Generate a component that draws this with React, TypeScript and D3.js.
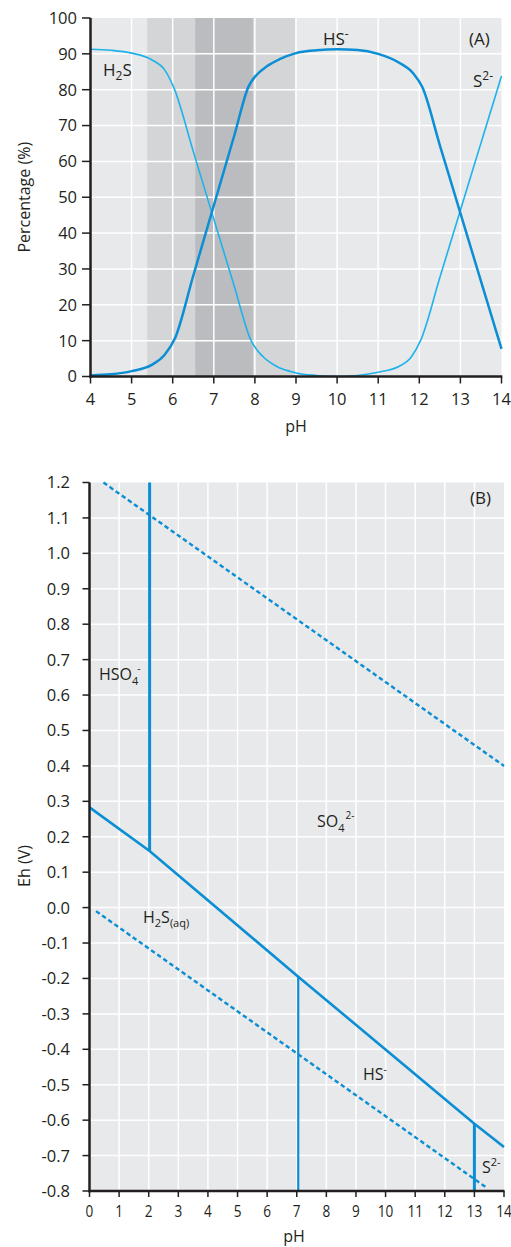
import React from 'react';
import * as d3 from 'd3';

// ---------- Chart A data ----------
const phTicksA = [4, 5, 6, 7, 8, 9, 10, 11, 12, 13, 14];
const pctTicks = [0, 10, 20, 30, 40, 50, 60, 70, 80, 90, 100];
const bandOuter = [5.38, 8.98];
const bandInner = [6.55, 7.95];
// H2S -> S2- fraction curve (light blue)
const h2sCurve: [number, number][] = [
  [4, 91.3], [4.5, 91.0], [5, 90.2], [5.5, 88.3], [5.8, 85.6], [6.03, 80.5],
  [6.5, 62.8], [7, 43.9], [7.5, 25.1], [7.9, 10.2], [8.2, 5.5], [8.5, 3.0],
  [9, 1.0], [9.5, 0.3], [10, 0.0], [10.5, 0.3], [11, 1.2], [11.5, 2.8],
  [11.8, 5.4], [12.03, 10.0], [12.5, 27.6], [13, 46.4], [13.5, 65.1], [14, 83.8],
];
// HS- fraction curve (dark blue)
const hsCurve: [number, number][] = [
  [4, 0.3], [4.5, 0.6], [5, 1.5], [5.5, 3.3], [5.8, 6.0], [6.05, 10.5],
  [6.5, 28.1], [7, 47.7], [7.5, 67.3], [7.85, 81.0], [8.0, 83.6], [8.3, 86.6],
  [8.6, 88.5], [9, 90.2], [9.5, 91.0], [10, 91.3], [10.5, 91.1], [11, 90.0],
  [11.5, 87.6], [11.85, 84.6], [12.07, 80.8], [12.5, 64.5], [13, 45.6],
  [13.5, 26.6], [14, 7.7],
];

// ---------- Chart B data ----------
const phTicksB = [0, 1, 2, 3, 4, 5, 6, 7, 8, 9, 10, 11, 12, 13, 14];
const ehTicks = [1.2, 1.1, 1.0, 0.9, 0.8, 0.7, 0.6, 0.5, 0.4, 0.3, 0.2, 0.1, 0.0,
  -0.1, -0.2, -0.3, -0.4, -0.5, -0.6, -0.7, -0.8];
const o2Line: [number, number][] = [[0.47, 1.2], [14, 0.40]];
const h2Line: [number, number][] = [[0.22, -0.01], [13.4, -0.79]];
const sulfideBoundary: [number, number][] = [
  [0, 0.283], [2.03, 0.16], [7.05, -0.195], [13.0, -0.61], [14, -0.676],
];
const verticalBoundaries: { ph: number; lo: number; hi: number }[] = [
  { ph: 2.03, lo: 0.16, hi: 1.2 },
  { ph: 7.05, lo: -0.8, hi: -0.195 },
  { ph: 13.0, lo: -0.8, hi: -0.61 },
];

const INK = '#231f20';
const BG = '#e8e9eb';
const LIGHT = '#1db3ea';
const DARK = '#0b8ed4';
const FONT = "'Open Sans', 'Noto Sans', sans-serif";

export default function App() {
  // ----- scales A -----
  const xA = d3.scaleLinear().domain([4, 14]).range([90.5, 501.5]);
  const yA = d3.scaleLinear().domain([0, 100]).range([376.5, 18]);
  const lineA = d3.line<[number, number]>()
    .x((d) => xA(d[0]))
    .y((d) => yA(d[1]))
    .curve(d3.curveMonotoneX);

  // ----- scales B -----
  const xB = d3.scaleLinear().domain([0, 14]).range([89.5, 504]);
  const yB = d3.scaleLinear().domain([-0.8, 1.2]).range([1191, 482.5]);
  const lineB = d3.line<[number, number]>().x((d) => xB(d[0])).y((d) => yB(d[1]));

  const fmtEh = (v: number) => (v < 0 ? '-' : '') + Math.abs(v).toFixed(1);

  return (
    <svg
      width={511}
      height={1247}
      style={{ position: 'absolute', left: 0, top: 0, background: '#fff' }}
      fontFamily={FONT}
    >
      {/* ================= CHART A ================= */}
      <rect x={xA(4)} y={yA(100)} width={xA(14) - xA(4)} height={yA(0) - yA(100)} fill={BG} />
      <rect x={xA(bandOuter[0])} y={yA(100)} width={xA(bandOuter[1]) - xA(bandOuter[0])}
        height={yA(0) - yA(100)} fill="#d4d5d7" />
      <rect x={xA(bandInner[0])} y={yA(100)} width={xA(bandInner[1]) - xA(bandInner[0])}
        height={yA(0) - yA(100)} fill="#bbbcbf" />
      {phTicksA.slice(1, -1).map((t) => (
        <line key={'gxa' + t} x1={xA(t)} x2={xA(t)} y1={yA(100)} y2={yA(0)} stroke="#fff" strokeWidth={1.5} />
      ))}
      {pctTicks.slice(1, -1).map((t) => (
        <line key={'gya' + t} x1={xA(4)} x2={xA(14)} y1={yA(t)} y2={yA(t)} stroke="#fff" strokeWidth={1.5} />
      ))}
      <path d={lineA(h2sCurve) || ''} fill="none" stroke={LIGHT} strokeWidth={1.6} />
      <path d={lineA(hsCurve) || ''} fill="none" stroke={DARK} strokeWidth={2.5} />
      {/* axes A */}
      <line x1={xA(4)} x2={xA(4)} y1={yA(100)} y2={yA(0) + 1.2} stroke={INK} strokeWidth={2.5} />
      <line x1={xA(4) - 1.2} x2={xA(14) + 0.8} y1={yA(0)} y2={yA(0)} stroke={INK} strokeWidth={2.5} />
      {pctTicks.map((t) => (
        <g key={'tya' + t}>
          <line x1={82} x2={xA(4)} y1={yA(t)} y2={yA(t)} stroke={INK} strokeWidth={1.5} />
          <text x={77} y={yA(t)} dy="0.36em" textAnchor="end" fontSize={16.5} fill={INK}>{t}</text>
        </g>
      ))}
      {phTicksA.map((t) => (
        <g key={'txa' + t}>
          <line x1={xA(t)} x2={xA(t)} y1={yA(0)} y2={yA(0) + 7} stroke={INK} strokeWidth={1.5} />
          <text x={xA(t)} y={405} textAnchor="middle" fontSize={16.5} fill={INK}>{t}</text>
        </g>
      ))}
      <text x={296} y={432} textAnchor="middle" fontSize={16} fill={INK}>pH</text>
      <text transform={`translate(30,${(yA(0) + yA(100)) / 2}) rotate(-90)`} textAnchor="middle"
        fontSize={16} fill={INK}>Percentage (%)</text>
      {/* labels A */}
      <text x={103} y={76} fontSize={17} fill={INK}>H<tspan fontSize={12} dy={4}>2</tspan><tspan dy={-4}>S</tspan></text>
      <text x={323} y={45} fontSize={17} fill={INK}>HS<tspan fontSize={12} dy={-7}>-</tspan></text>
      <text x={469} y={45} fontSize={17} fill={INK}>(A)</text>
      <text x={473} y={87} fontSize={17} fill={INK}>S<tspan fontSize={12} dy={-7}>2-</tspan></text>

      {/* ================= CHART B ================= */}
      <rect x={xB(0)} y={yB(1.2)} width={xB(14) - xB(0)} height={yB(-0.8) - yB(1.2)} fill={BG} />
      {phTicksB.slice(1, -1).map((t) => (
        <line key={'gxb' + t} x1={xB(t)} x2={xB(t)} y1={yB(1.2)} y2={yB(-0.8)} stroke="#fff" strokeWidth={1.5} />
      ))}
      {ehTicks.slice(1, -1).map((t) => (
        <line key={'gyb' + t} x1={xB(0)} x2={xB(14)} y1={yB(t)} y2={yB(t)} stroke="#fff" strokeWidth={1.5} />
      ))}
      <path d={lineB(o2Line) || ''} fill="none" stroke={DARK} strokeWidth={2.4} strokeDasharray="4.5,3" />
      <path d={lineB(h2Line) || ''} fill="none" stroke={DARK} strokeWidth={2.4} strokeDasharray="4.5,3" />
      <path d={lineB(sulfideBoundary) || ''} fill="none" stroke={DARK} strokeWidth={2.6} />
      {verticalBoundaries.map((v, i) => (
        <line key={'vb' + i} x1={xB(v.ph)} x2={xB(v.ph)} y1={yB(v.hi)} y2={yB(v.lo)}
          stroke={DARK} strokeWidth={i === 1 ? 2.2 : 3} />
      ))}
      {/* axes B */}
      <line x1={xB(0)} x2={xB(0)} y1={yB(1.2)} y2={yB(-0.8) + 1.2} stroke={INK} strokeWidth={2.5} />
      <line x1={xB(0) - 1.2} x2={xB(14) + 0.5} y1={yB(-0.8)} y2={yB(-0.8)} stroke={INK} strokeWidth={2.5} />
      {ehTicks.map((t) => (
        <g key={'tyb' + t}>
          <line x1={82.5} x2={xB(0)} y1={yB(t)} y2={yB(t)} stroke={INK} strokeWidth={1.5} />
          <text x={70} y={yB(t)} dy="0.36em" textAnchor="end" fontSize={16.5} fill={INK}>{fmtEh(t)}</text>
        </g>
      ))}
      {phTicksB.map((t) => (
        <g key={'txb' + t}>
          <line x1={xB(t)} x2={xB(t)} y1={yB(-0.8)} y2={yB(-0.8) + 6} stroke={INK} strokeWidth={1.5} />
          <text transform={`translate(${xB(t)},1217) scale(0.8,1)`} textAnchor="middle" fontSize={17} fill={INK}>{t}</text>
        </g>
      ))}
      <text x={294} y={1242} textAnchor="middle" fontSize={16} fill={INK}>pH</text>
      <text transform={`translate(30,866) rotate(-90)`} textAnchor="middle" fontSize={16} fill={INK}>Eh (V)</text>
      {/* labels B */}
      <text x={470} y={504} fontSize={17} fill={INK}>(B)</text>
      <text x={99} y={680} fontSize={16} fill={INK}>HSO<tspan fontSize={11} dy={5}>4</tspan><tspan fontSize={10} dy={-13} dx={-1}>-</tspan></text>
      <text x={317} y={827} fontSize={16} fill={INK}>SO<tspan fontSize={11} dy={5}>4</tspan><tspan fontSize={10} dy={-13} dx={1}>2-</tspan></text>
      <text x={143} y={923} fontSize={16} fill={INK}>H<tspan fontSize={11} dy={4}>2</tspan><tspan dy={-4}>S</tspan><tspan fontSize={11} dy={4}>(aq)</tspan></text>
      <text x={363} y={1080} fontSize={16} fill={INK}>HS<tspan fontSize={10} dy={-7}>-</tspan></text>
      <text x={482} y={1173} fontSize={16} fill={INK}>S<tspan fontSize={11} dy={-7}>2-</tspan></text>
    </svg>
  );
}
